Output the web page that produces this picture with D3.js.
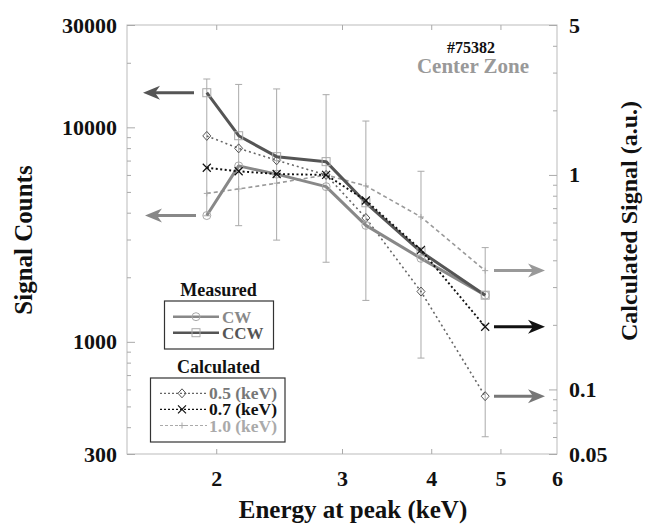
<!DOCTYPE html>
<html><head><meta charset="utf-8">
<script src="https://cdn.jsdelivr.net/npm/d3@7"></script>
<style>
html,body{margin:0;padding:0;background:#fff;}
svg text{font-family:"Liberation Serif","Times New Roman",serif;font-weight:bold;}
</style></head>
<body><svg id="c" width="651" height="524"></svg>
<script>
// ---- data ----
const energy = [1.94, 2.15, 2.43, 2.85, 3.24, 3.87, 4.76];
const cw  = [3880, 6610, 6050, 5290, 3490, 2450, 1650];
const ccw = [14500, 9140, 7300, 6920, 4450, 2630, 1650];
const errLow  = [3870, 3480, 2980, 2350, 1560, 840, 361];
const errHigh = [16800, 15850, 15100, 14200, 10700, 6240, 2750];
const calc05 = [1.52, 1.33, 1.17, 1.0, 0.63, 0.286, 0.093];
const calc07 = [1.08, 1.04, 1.01, 1.0, 0.76, 0.447, 0.196];
const calc10 = [0.82, 0.86, 0.915, 1.0, 0.889, 0.637, 0.358];
const xTicks = [2, 3, 4, 5, 6];
const leftLabels = [300, 1000, 10000, 30000];
const leftMinor = [20000, 9000, 8000, 7000, 6000, 5000, 4000, 3000, 2000, 900, 800, 700, 600, 500, 400];
const rightLabels = [0.05, 0.1, 1, 5];
const rightMinor = [4, 3, 2, 0.9, 0.8, 0.7, 0.6, 0.5, 0.4, 0.3, 0.2, 0.09, 0.08, 0.07, 0.06];

const svg = d3.select("#c");
const L = 127, R = 557, T = 25, B = 454;
const x = d3.scaleLog().domain([1.5, 6]).range([L, R]);
const yL = d3.scaleLog().domain([300, 30000]).range([B, T]);
const yR = d3.scaleLog().domain([0.05, 5]).range([B, T]);

const fmt = d => String(d);
const tickCol = "#aaa";

// frame
svg.append("rect").attr("x", L).attr("y", T).attr("width", R - L).attr("height", B - T)
  .attr("fill", "none").attr("stroke", "#bbb").attr("stroke-width", 1);

function styleAxis(g, size) {
  g.select(".domain").remove();
  g.selectAll(".tick line").attr("stroke", tickCol);
  g.selectAll(".tick text").attr("fill", "#111").attr("font-size", size).attr("font-family", "Liberation Serif").attr("font-weight", "bold");
}
// left axis
svg.append("g").attr("transform", `translate(${L},0)`)
  .call(d3.axisLeft(yL).tickValues(leftLabels).tickFormat(fmt).tickSizeInner(-8).tickSizeOuter(0).tickPadding(10))
  .call(g => styleAxis(g, 22));
svg.append("g").attr("transform", `translate(${L},0)`)
  .call(d3.axisLeft(yL).tickValues(leftMinor).tickFormat("").tickSizeInner(-4).tickSizeOuter(0))
  .call(g => styleAxis(g, 22));
// right axis
svg.append("g").attr("transform", `translate(${R},0)`)
  .call(d3.axisRight(yR).tickValues(rightLabels).tickFormat(fmt).tickSizeInner(-8).tickSizeOuter(0).tickPadding(12))
  .call(g => styleAxis(g, 22));
svg.append("g").attr("transform", `translate(${R},0)`)
  .call(d3.axisRight(yR).tickValues(rightMinor).tickFormat("").tickSizeInner(-4).tickSizeOuter(0))
  .call(g => styleAxis(g, 22));
// bottom axis
svg.append("g").attr("transform", `translate(0,${B})`)
  .call(d3.axisBottom(x).tickValues(xTicks).tickFormat(fmt).tickSizeInner(-5).tickSizeOuter(0).tickPadding(16))
  .call(g => styleAxis(g, 22))
  .call(g => g.selectAll(".tick").filter(d => d === 6).select("line").remove());
// top axis ticks
svg.append("g").attr("transform", `translate(0,${T})`)
  .call(d3.axisTop(x).tickValues(xTicks.filter(d => d < 6)).tickFormat("").tickSizeInner(-5).tickSizeOuter(0))
  .call(g => styleAxis(g, 22));

// axis titles
svg.append("text").attr("transform", "translate(32,240) rotate(-90)").attr("text-anchor", "middle")
  .attr("font-size", 25).attr("fill", "#111").text("Signal Counts");
svg.append("text").attr("transform", "translate(637,221) rotate(-90)").attr("text-anchor", "middle")
  .attr("font-size", 24).attr("fill", "#111").text("Calculated Signal (a.u.)");
svg.append("text").attr("x", 353).attr("y", 518).attr("text-anchor", "middle")
  .attr("font-size", 25).attr("fill", "#111").text("Energy at peak (keV)");

// annotation
svg.append("text").attr("x", 471).attr("y", 53).attr("text-anchor", "middle")
  .attr("font-size", 16).attr("fill", "#111").text("#75382");
svg.append("text").attr("x", 473).attr("y", 73).attr("text-anchor", "middle")
  .attr("font-size", 21).attr("fill", "#999").text("Center Zone");

// error bars
const eb = svg.append("g").attr("stroke", "#aaa").attr("stroke-width", 1);
energy.forEach((e, i) => {
  const xx = x(e);
  eb.append("line").attr("x1", xx).attr("x2", xx).attr("y1", yL(errLow[i])).attr("y2", yL(errHigh[i]));
  eb.append("line").attr("x1", xx - 3.5).attr("x2", xx + 3.5).attr("y1", yL(errLow[i])).attr("y2", yL(errLow[i]));
  eb.append("line").attr("x1", xx - 3.5).attr("x2", xx + 3.5).attr("y1", yL(errHigh[i])).attr("y2", yL(errHigh[i]));
});

// marker drawers
const markers = {
  circle: (g, cx, cy) => g.append("circle").attr("cx", cx).attr("cy", cy).attr("r", 4).attr("fill", "none").attr("stroke", "#aaa").attr("stroke-width", 1),
  square: (g, cx, cy) => g.append("rect").attr("x", cx - 4).attr("y", cy - 4).attr("width", 8).attr("height", 8).attr("fill", "none").attr("stroke", "#aaa").attr("stroke-width", 1),
  diamond: (g, cx, cy) => g.append("path").attr("d", `M${cx},${cy - 4.5}L${cx + 4},${cy}L${cx},${cy + 4.5}L${cx - 4},${cy}Z`).attr("fill", "none").attr("stroke", "#555").attr("stroke-width", 1),
  cross: (g, cx, cy) => g.append("path").attr("d", `M${cx - 4},${cy - 4}L${cx + 4},${cy + 4}M${cx - 4},${cy + 4}L${cx + 4},${cy - 4}`).attr("stroke", "#111").attr("stroke-width", 1.2),
  plus: (g, cx, cy) => g.append("path").attr("d", `M${cx - 3},${cy}L${cx + 3},${cy}M${cx},${cy - 3}L${cx},${cy + 3}`).attr("stroke", "#aaa").attr("stroke-width", 1)
};

const series = [
  { vals: calc10, y: yR, color: "#9a9a9a", width: 1.6, dash: "4,3", marker: "plus" },
  { vals: calc05, y: yR, color: "#666", width: 1.6, dash: "2,3", marker: "diamond" },
  { vals: cw, y: yL, color: "#888", width: 3, dash: null, marker: "circle" },
  { vals: ccw, y: yL, color: "#555", width: 3, dash: null, marker: "square" },
  { vals: calc07, y: yR, color: "#111", width: 1.9, dash: "2,2.5", marker: "cross" }
];
series.forEach(s => {
  const line = d3.line().x((d, i) => x(energy[i])).y(d => s.y(d));
  svg.append("path").attr("d", line(s.vals)).attr("fill", "none").attr("stroke", s.color)
    .attr("stroke-width", s.width).attr("stroke-dasharray", s.dash).attr("stroke-linejoin", "round");
  const g = svg.append("g");
  s.vals.forEach((v, i) => markers[s.marker](g, x(energy[i]), s.y(v)));
});

// arrows
function arrow(tipX, y, dir, color) {
  const g = svg.append("g");
  const shaftEnd = tipX - dir * 51;
  g.append("line").attr("x1", tipX - dir * 10).attr("x2", shaftEnd).attr("y1", y).attr("y2", y)
    .attr("stroke", color).attr("stroke-width", 3);
  g.append("path").attr("d", `M${tipX},${y}L${tipX - dir * 17},${y - 7}L${tipX - dir * 12},${y}L${tipX - dir * 17},${y + 7}Z`)
    .attr("fill", color);
}
arrow(143, yL(ccw[0]), -1, "#555");
arrow(145, yL(cw[0]), -1, "#888");
const last = energy.length - 1;
arrow(545, yR(calc10[last]), 1, "#999");
arrow(545, yR(calc07[last]), 1, "#111");
arrow(545, yR(calc05[last]), 1, "#777");

// legends
svg.append("text").attr("x", 218.5).attr("y", 296).attr("text-anchor", "middle").attr("font-size", 18).attr("fill", "#111").text("Measured");
svg.append("rect").attr("x", 164.5).attr("y", 301).attr("width", 109).attr("height", 48)
  .attr("fill", "#fff").attr("stroke", "#333").attr("stroke-width", 1.2);
const measLeg = [
  { label: "CW", color: "#888", marker: "circle", y: 316.7 },
  { label: "CCW", color: "#555", marker: "square", y: 332.7 }
];
measLeg.forEach(m => {
  svg.append("line").attr("x1", 173).attr("x2", 219).attr("y1", m.y).attr("y2", m.y).attr("stroke", m.color).attr("stroke-width", 2.5);
  markers[m.marker](svg.append("g"), 196, m.y);
  svg.append("text").attr("x", 222).attr("y", m.y + 6).attr("font-size", 17).attr("fill", m.color).text(m.label);
});

svg.append("text").attr("x", 218.5).attr("y", 373).attr("text-anchor", "middle").attr("font-size", 18).attr("fill", "#111").text("Calculated");
svg.append("rect").attr("x", 150.5).attr("y", 378).attr("width", 134.5).attr("height", 64)
  .attr("fill", "#fff").attr("stroke", "#333").attr("stroke-width", 1.2);
const calcLeg = [
  { label: "0.5 (keV)", color: "#666", text: "#777", dash: "2,2", marker: "diamond", y: 393.3 },
  { label: "0.7 (keV)", color: "#111", text: "#111", dash: "2,2", marker: "cross", y: 409.3 },
  { label: "1.0 (keV)", color: "#aaa", text: "#aaa", dash: "3,2", marker: "plus", y: 425.5 }
];
calcLeg.forEach(m => {
  svg.append("line").attr("x1", 160).attr("x2", 207).attr("y1", m.y).attr("y2", m.y).attr("stroke", m.color)
    .attr("stroke-width", 1.2).attr("stroke-dasharray", m.dash);
  markers[m.marker](svg.append("g"), 182, m.y);
  svg.append("text").attr("x", 209).attr("y", m.y + 6).attr("font-size", 17.5).attr("fill", m.text).text(m.label);
});
</script></body></html>
